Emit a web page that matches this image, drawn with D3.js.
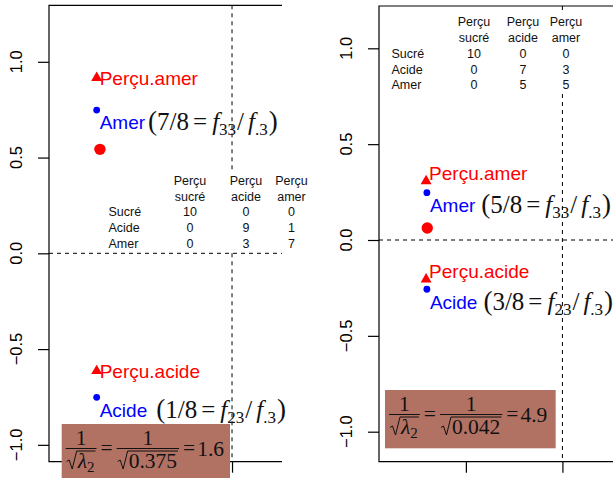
<!DOCTYPE html>
<html><head><meta charset="utf-8">
<script src="https://cdn.jsdelivr.net/npm/d3@7"></script>
<style>body{margin:0;background:#fff}svg{display:block}</style>
</head><body>
<svg id="c" width="613" height="478"></svg>
<script>
// ---------- data ----------
const rowNames = ["Sucré", "Acide", "Amer"];
const colHeads = [["Perçu", "sucré"], ["Perçu", "acide"], ["Perçu", "amer"]];
const tableLeft = [[10, 0, 0], [0, 9, 1], [0, 3, 7]];
const tableRight = [[10, 0, 0], [0, 7, 3], [0, 5, 5]];
const yTicks = [-1.0, -0.5, 0.0, 0.5, 1.0];
const xTicks = [-0.5, 0.0];
const rowPtsLeft = [
  {name: "Amer", x: -0.707, y: 0.748, frac: "7/8", idx: "33"},
  {name: "Acide", x: -0.707, y: -0.752, frac: "1/8", idx: "23"}];
const colPtsLeft = [
  {name: "Perçu.amer", x: -0.707, y: 0.922},
  {name: "Perçu.acide", x: -0.707, y: -0.609}];
const centerLeft = [{x: -0.69, y: 0.543}];
const rowPtsRight = [
  {name: "Amer", x: -0.702, y: 0.247, frac: "5/8", idx: "33"},
  {name: "Acide", x: -0.702, y: -0.257, frac: "3/8", idx: "23"}];
const colPtsRight = [
  {name: "Perçu.amer", x: -0.706, y: 0.313},
  {name: "Perçu.acide", x: -0.706, y: -0.2}];
const centerRight = [{x: -0.70, y: 0.063}];
const lambdaLeft = {lambda: "0.375", value: "1.6"};
const lambdaRight = {lambda: "0.042", value: "4.9"};

// ---------- layout ----------
const panels = [
  {
    xDomain: [-0.956, 0.261], xRange: [49, 282],
    yDomain: [-1.088, 1.295], yRange: [461.7, 5.3],
    table: tableLeft, rowPts: rowPtsLeft, colPts: colPtsLeft, center: centerLeft, lam: lambdaLeft,
    tab: {nameX: 108.5, colX: [190, 246, 291.5], rowY: [180, 196, 211.5, 227.5, 243.5], bg: [104, 170, 212, 81]},
    colDy: 1.5, rowDy: 12.5, gaps: {Amer: 3, Acide: 9},
    box: {x: 61.7, y: 424, w: 168.3, h: 58}
  },
  {
    xDomain: [-0.95, 0.262], xRange: [379, 613],
    yDomain: [-1.1565, 1.2207], yRange: [461.7, 6],
    table: tableRight, rowPts: rowPtsRight, colPts: colPtsRight, center: centerRight, lam: lambdaRight,
    tab: {nameX: 391.5, colX: [474, 523, 566], rowY: [21.5, 37.5, 53, 69, 84], bg: [387, 13, 205, 77]},
    colDy: -7.3, rowDy: 12.5, gaps: {Amer: 6, Acide: 6},
    box: {x: 385, y: 390, w: 170.7, h: 58.3}
  }
];

const SANS = "Liberation Sans, Arial, Helvetica, sans-serif";
const SERIF = "Liberation Serif, Times New Roman, serif";
const svg = d3.select("#c");

panels.forEach(P => {
  const x = d3.scaleLinear().domain(P.xDomain).range(P.xRange);
  const y = d3.scaleLinear().domain(P.yDomain).range(P.yRange);
  const g = svg.append("g");
  const L = P.xRange[0], R = P.xRange[1], T = P.yRange[1], B = P.yRange[0];

  // frame (open on the right: cropped)
  g.append("path").attr("d", `M${R},${T}H${L}V${B}H${R}`)
    .attr("fill", "none").attr("stroke", "#000").attr("stroke-width", 1.2);

  // y axis
  const yax = g.append("g").attr("transform", `translate(${L},0)`)
    .call(d3.axisLeft(y).tickValues(yTicks).tickSize(11).tickFormat(d3.format(".1f")));
  yax.select(".domain").remove();
  yax.selectAll("line").attr("stroke-width", 1.2);
  yax.selectAll("text").remove();
  yTicks.forEach(t => {
    g.append("text").attr("transform", `translate(${L - 33},${y(t)}) rotate(-90)`)
      .attr("text-anchor", "middle").attr("dominant-baseline", "central")
      .attr("font-family", SANS).attr("font-size", 16.5).text(d3.format(".1f")(t));
  });

  // x axis ticks
  const xax = g.append("g").attr("transform", `translate(0,${B})`)
    .call(d3.axisBottom(x).tickValues(xTicks).tickSize(11).tickFormat(""));
  xax.select(".domain").remove();
  xax.selectAll("line").attr("stroke-width", 1.2);

  // dashed reference lines
  g.append("line").attr("x1", L).attr("x2", R).attr("y1", y(0)).attr("y2", y(0))
    .attr("stroke", "#000").attr("stroke-dasharray", "4,4");
  g.append("line").attr("x1", x(0)).attr("x2", x(0)).attr("y1", T).attr("y2", B)
    .attr("stroke", "#000").attr("stroke-dasharray", "4,4");

  // contingency table
  const tb = P.tab;
  g.append("rect").attr("x", tb.bg[0]).attr("y", tb.bg[1]).attr("width", tb.bg[2]).attr("height", tb.bg[3]).attr("fill", "#fff");
  const tg = g.append("g").attr("font-family", SANS).attr("font-size", 12.5).attr("fill", "#111");
  colHeads.forEach((h, j) => {
    h.forEach((s, k) => tg.append("text").attr("x", tb.colX[j]).attr("y", tb.rowY[k]).attr("dy", "0.36em")
      .attr("text-anchor", "middle").text(s));
  });
  rowNames.forEach((r, i) => {
    tg.append("text").attr("x", tb.nameX).attr("y", tb.rowY[i + 2]).attr("dy", "0.36em").text(r);
    P.table[i].forEach((v, j) => tg.append("text").attr("x", tb.colX[j]).attr("y", tb.rowY[i + 2]).attr("dy", "0.36em")
      .attr("text-anchor", "middle").text(v));
  });

  // centroid-like red circle
  g.selectAll(".cen").data(P.center).enter().append("circle")
    .attr("cx", d => x(d.x)).attr("cy", d => y(d.y)).attr("r", 5.7).attr("fill", "#ff0000");

  // column points (red triangles)
  const tri = d3.symbol().type(d3.symbolTriangle).size(52);
  g.selectAll(".tri").data(P.colPts).enter().append("path")
    .attr("d", tri).attr("transform", d => `translate(${x(d.x)},${y(d.y) + 1})`).attr("fill", "#ff0000");
  g.selectAll(".tl").data(P.colPts).enter().append("text")
    .attr("x", d => x(d.x) + 3).attr("y", d => y(d.y) + P.colDy + 6.8)
    .attr("font-family", SANS).attr("font-size", 19).attr("fill", "#ff0000").text(d => d.name);

  // row points (blue dots) + formulas
  g.selectAll(".dot").data(P.rowPts).enter().append("circle")
    .attr("cx", d => x(d.x)).attr("cy", d => y(d.y)).attr("r", 3.4).attr("fill", "#0000ff");
  P.rowPts.forEach(d => {
    const bx = x(d.x) + 3, by = y(d.y) + P.rowDy + 6.8;
    const lab = g.append("text").attr("x", bx).attr("y", by)
      .attr("font-family", SANS).attr("font-size", 19).attr("fill", "#0000ff").text(d.name);
    const w = lab.node().getComputedTextLength();
    const f = g.append("text").attr("x", bx + w + P.gaps[d.name]).attr("y", by + 1)
      .attr("font-family", SERIF).attr("font-size", 25).attr("fill", "#111");
    f.append("tspan").attr("font-size", 27).text("(");
    f.append("tspan").text(d.frac);
    f.append("tspan").attr("dx", 4).text("=");
    f.append("tspan").attr("dx", 5).attr("font-style", "italic").text("f");
    f.append("tspan").attr("dy", 5).attr("font-size", 17).text(d.idx);
    f.append("tspan").attr("dy", -5).attr("dx", 1).text("/");
    f.append("tspan").attr("dx", 4).attr("font-style", "italic").text("f");
    f.append("tspan").attr("dy", 5).attr("font-size", 17).text("." + d.idx.slice(1));
    f.append("tspan").attr("dy", -5).attr("dx", 1).attr("font-size", 27).text(")");
  });

  // brown box with 1/sqrt(lambda2)
  const bx = P.box;
  g.append("rect").attr("x", bx.x).attr("y", bx.y).attr("width", bx.w).attr("height", bx.h).attr("fill", "#b17264");
  const fs = 21.5;
  const bar = bx.y + 24.5;
  const bg2 = g.append("g").attr("font-family", SERIF).attr("font-size", fs).attr("fill", "#111");
  let cx = bx.x + 4;
  function frac(denBuilder) {
    const dg = bg2.append("g");
    const dw = denBuilder(dg, cx, bar + 19);
    bg2.append("text").attr("x", cx + dw / 2).attr("y", bar - 4).attr("text-anchor", "middle").text("1");
    bg2.append("line").attr("x1", cx).attr("x2", cx + dw).attr("y1", bar).attr("y2", bar).attr("stroke", "#111").attr("stroke-width", 1);
    cx += dw;
  }
  function radical(dg, x0, base, build) {
    const t = dg.append("text").attr("x", x0 + 12).attr("y", base);
    build(t);
    const cw = t.node().getComputedTextLength();
    const top = base - 16.5;
    dg.append("path").attr("d", `M${x0 + 1},${base - 6} L${x0 + 3.5},${base - 7.5} L${x0 + 6.5},${base + 1.5} L${x0 + 11},${top} H${x0 + 12 + cw + 1}`)
      .attr("fill", "none").attr("stroke", "#111").attr("stroke-width", 1);
    return 12 + cw + 2;
  }
  function eq() {
    cx += 4;
    const t = bg2.append("text").attr("x", cx).attr("y", bar + 6.5).text("=");
    cx += t.node().getComputedTextLength() + 4;
  }
  frac((dg, x0, base) => radical(dg, x0, base, t => {
    t.append("tspan").attr("font-style", "italic").text("λ");
    t.append("tspan").attr("dy", 4).attr("font-size", 15).text("2");
  }));
  eq();
  frac((dg, x0, base) => radical(dg, x0, base, t => t.text(P.lam.lambda)));
  eq();
  bg2.append("text").attr("x", cx - 2).attr("y", bar + 7).text(P.lam.value);
});
</script>
</body></html>
